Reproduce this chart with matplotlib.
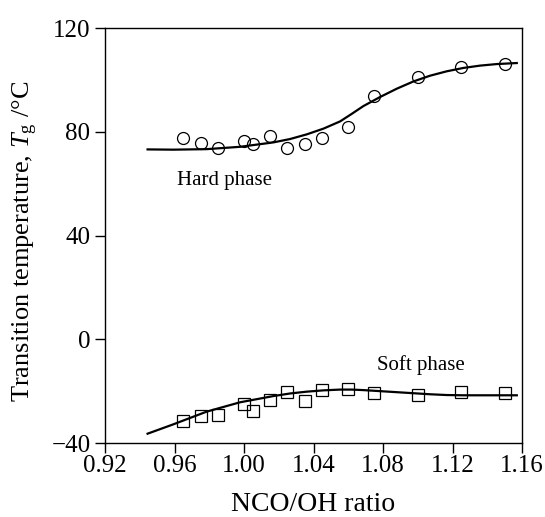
import matplotlib
matplotlib.use("Agg")
import matplotlib.pyplot as plt

plt.rcParams["font.family"] = ["Liberation Serif", "DejaVu Serif"]
plt.rcParams["mathtext.fontset"] = "custom"
plt.rcParams["mathtext.rm"] = "Liberation Serif"
plt.rcParams["mathtext.it"] = "Liberation Serif:italic"

# Measured glass transition temperatures vs NCO/OH ratio
ratio = [0.965, 0.975, 0.985, 1.000, 1.005, 1.015, 1.025, 1.035, 1.045,
         1.060, 1.075, 1.100, 1.125, 1.150]
tg_hard = [77.5, 75.6, 73.6, 76.6, 75.3, 78.3, 73.6, 75.2, 77.5,
           81.7, 93.9, 101.0, 104.9, 106.0]
tg_soft = [-31.4, -29.6, -29.2, -24.9, -27.5, -23.4, -20.4, -23.7, -19.6,
           -19.1, -20.8, -21.6, -20.2, -20.7]

# Fitted trend lines
fit_x = [0.9445, 0.9593, 0.9785, 0.9977, 1.0169, 1.0265, 1.0361, 1.0457,
         1.0553, 1.0620, 1.0687, 1.0783, 1.0879, 1.0975, 1.1070, 1.1166,
         1.1262, 1.1358, 1.1454, 1.1570]
fit_hard = [73.2, 73.1, 73.3, 74.2, 75.9, 77.2, 79.0, 81.2,
            84.0, 86.9, 89.9, 93.4, 96.6, 99.4, 101.6, 103.3,
            104.6, 105.5, 106.1, 106.5]
fit_soft = [-36.4, -32.8, -27.9, -24.3, -21.9, -20.9, -20.2, -19.7,
            -19.4, -19.4, -19.6, -20.0, -20.4, -20.8, -21.2, -21.5,
            -21.6, -21.6, -21.6, -21.6]

x_ticks = [0.92, 0.96, 1.00, 1.04, 1.08, 1.12, 1.16]
y_ticks = [-40, 0, 40, 80, 120]

fig = plt.figure(figsize=(5.45, 5.17), dpi=100)
ax = fig.add_axes([0.1927, 0.1431, 0.7651, 0.8027])

ax.plot(fit_x, fit_hard, color="black", lw=1.6, zorder=2)
ax.plot(fit_x, fit_soft, color="black", lw=1.6, zorder=2)
ax.plot(ratio, tg_hard, linestyle="none", marker="o", ms=8.6,
        mfc="none", mec="black", mew=0.9, zorder=3)
ax.plot(ratio, tg_soft, linestyle="none", marker="s", ms=8.0,
        mfc="none", mec="black", mew=0.9, zorder=3)

ax.text(0.9613, 59.5, "Hard phase", fontsize=15, ha="left", va="baseline")
ax.text(1.0764, -11.8, "Soft phase", fontsize=15, ha="left", va="baseline")

ax.set_xlim(0.92, 1.16)
ax.set_ylim(-40, 120)
ax.set_xticks(x_ticks)
ax.set_xticklabels([f"{v:.2f}" for v in x_ticks])
ax.set_yticks(y_ticks)
ax.tick_params(direction="out", length=7, width=1.0, labelsize=18,
               top=False, right=False)
ax.tick_params(axis="x", pad=1.5)
ax.tick_params(axis="y", pad=3.5)
for s in ax.spines.values():
    s.set_linewidth(1.0)

ax.set_xlabel("NCO/OH ratio", fontsize=20, labelpad=11)
fig.text(25 / 545, 1 - 241 / 517, r"Transition temperature, $T_{\mathrm{g}}$ /°C",
         rotation=90, fontsize=19, ha="center", va="center")

fig.savefig("out.png", dpi=100)
